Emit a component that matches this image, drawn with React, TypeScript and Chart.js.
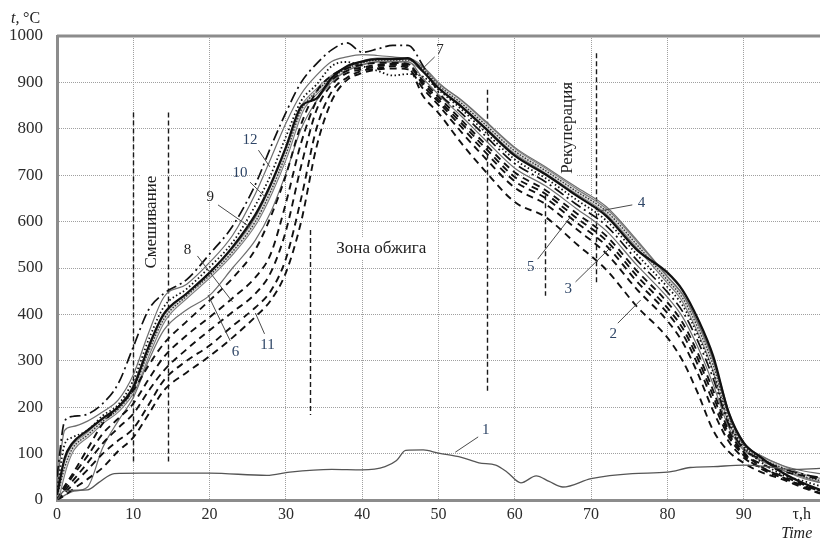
import React, { useEffect, useRef } from "react";
import { Chart, registerables } from "chart.js";

Chart.register(...registerables);

// time, h
const timeH = [0, 1, 2, 4, 6, 8, 10, 12, 14, 17, 20, 23, 26, 28, 30, 32, 34, 36, 38, 40, 42, 44, 46, 48, 50, 53, 56, 60, 64, 68, 72, 76, 80, 82, 84, 86, 88, 90, 92, 95, 98, 100];

// temperature curves, °C (values at timeH)
const curve2 = [0, 15, 32, 65, 100, 128, 154, 205, 258, 300, 333, 375, 415, 450, 520, 650, 800, 880, 910, 925, 930, 935, 932, 870, 834, 769, 711, 642, 610, 553, 496, 417, 350, 300, 230, 150, 105, 80, 62, 45, 25, 14];
const curve3 = [0, 30, 55, 110, 165, 200, 236, 290, 337, 385, 430, 478, 540, 610, 700, 810, 880, 915, 930, 938, 942, 942, 940, 893, 858, 804, 752, 687, 651, 599, 548, 471, 403, 358, 291, 211, 137, 96, 70, 48, 30, 20];
const curve4 = [5, 70, 110, 140, 170, 195, 238, 320, 390, 440, 484, 535, 600, 665, 745, 840, 880, 910, 930, 942, 948, 948, 948, 928, 894, 855, 811, 752, 710, 666, 622, 550, 474, 435, 371, 291, 180, 118, 92, 70, 50, 42];
const curve5 = [0, 20, 40, 80, 122, 155, 186, 235, 279, 325, 366, 405, 445, 490, 580, 720, 840, 895, 920, 928, 935, 938, 935, 898, 863, 812, 761, 696, 660, 609, 559, 483, 414, 370, 304, 224, 144, 100, 80, 62, 52, 45];
const curve6 = [0, 10, 18, 28, 113, 170, 221, 300, 366, 410, 441, 500, 560, 620, 704, 800, 860, 900, 925, 938, 945, 945, 945, 908, 874, 827, 778, 715, 677, 629, 580, 506, 437, 394, 329, 249, 158, 107, 88, 65, 48, 38];
const curve7 = [50, 170, 180, 185, 208, 250, 330, 410, 445, 475, 530, 590, 680, 760, 835, 900, 940, 970, 985, 965, 972, 980, 980, 935, 879, 834, 787, 725, 686, 638, 591, 517, 448, 406, 342, 262, 164, 110, 90, 68, 55, 48];
const curve8 = [0, 25, 50, 95, 143, 175, 208, 260, 308, 355, 394, 435, 480, 530, 640, 770, 860, 905, 925, 932, 938, 940, 938, 903, 869, 819, 769, 706, 668, 619, 569, 494, 426, 382, 316, 236, 151, 103, 75, 50, 28, 15];
const curve9 = [10, 90, 122, 150, 176, 200, 243, 330, 401, 445, 490, 545, 615, 680, 760, 848, 865, 910, 935, 945, 950, 950, 952, 923, 888, 848, 803, 742, 702, 657, 612, 539, 490, 452, 390, 310, 190, 123, 95, 60, 35, 22];
const curve10 = [20, 120, 135, 150, 182, 205, 258, 345, 416, 455, 502, 555, 635, 700, 783, 860, 895, 935, 944, 935, 925, 915, 918, 912, 884, 842, 795, 734, 694, 648, 602, 529, 459, 419, 355, 275, 171, 114, 85, 55, 40, 30];
const curve11 = [0, 10, 22, 45, 70, 105, 135, 185, 236, 275, 310, 350, 395, 430, 490, 600, 760, 860, 905, 920, 928, 930, 928, 886, 851, 793, 739, 673, 638, 585, 531, 454, 386, 340, 272, 192, 127, 91, 72, 52, 32, 18];
const curve12 = [30, 150, 158, 170, 190, 215, 270, 360, 437, 465, 512, 570, 660, 735, 812, 875, 915, 945, 955, 960, 958, 955, 950, 932, 898, 862, 819, 760, 718, 675, 632, 560, 482, 443, 380, 300, 185, 120, 98, 75, 62, 57];

// curve 1 has its own time points
const curve1Time = [0, 1, 4, 5.5, 7.5, 11, 20, 27.5, 30.5, 36, 40, 43, 44.5, 45.7, 48, 50, 53, 55.3, 57.5, 59, 60.8, 62.8, 64.5, 66.3, 70, 75.4, 80, 83, 86, 90, 93, 96.3, 100];
const curve1Temp = [0, 20, 22, 38, 57, 58, 58, 53, 60, 66, 65, 72, 85, 107, 108, 101, 92, 80, 75, 60, 37, 52, 40, 28, 46, 57, 60, 70, 72, 75, 72, 66, 68];

// axis ticks
const xTicks = [0, 10, 20, 30, 40, 50, 60, 70, 80, 90];
const yTicks = [0, 100, 200, 300, 400, 500, 600, 700, 800, 900, 1000];

// zone boundaries (time, from °C, to °C)
const zoneLineX = [10, 14.6, 33.1, 56.3, 63.9, 70.6];
const zoneLineFrom = [80, 82, 183, 233, 440, 463];
const zoneLineTo = [835, 835, 582, 884, 657, 963];

// zone names
const zoneText = ["Смешивание", "Зона обжига", "Рекуперация"];
const zoneTextX = [12.3, 42.5, 66.8];
const zoneTextY = [599, 541, 802];
const zoneTextVertical = [true, false, true];

// curve numbers with leader lines
const labelText = ["1", "2", "3", "4", "5", "6", "7", "8", "9", "10", "11", "12"];
const labelX = [56.2, 72.9, 67.0, 76.6, 62.1, 23.4, 50.2, 17.1, 20.1, 24.0, 27.6, 25.3];
const labelY = [151, 358, 455, 640, 502, 319, 970, 539, 653, 705, 334, 776];
const leaderX1 = [55.2, 73.5, 67.96, 75.4, 63.0, 22.7, 49.5, 18.4, 21.1, 25.3, 27.2, 26.4];
const leaderY1 = [136, 381, 470, 636, 519, 343, 955, 526, 636, 685, 358, 754];
const leaderX2 = [52.2, 76.5, 72.6, 70.8, 67.3, 19.8, 48.0, 23.0, 25.3, 27.3, 26.0, 27.9];
const leaderY2 = [103, 431, 545, 622, 610, 442, 931, 427, 588, 653, 403, 718];

const SERIF = "'Liberation Serif', 'DejaVu Serif', serif";

function pts(xs: number[], ys: number[]) {
  return xs.map((x, i) => ({ x, y: ys[i] }));
}

const annotatePlugin = {
  id: "annotate",
  beforeDatasetsDraw(chart: any) {
    const { ctx, scales } = chart;
    const x = scales.x;
    const y = scales.y;
    ctx.save();
    // white backgrounds behind zone names
    ctx.font = `17px ${SERIF}`;
    ctx.fillStyle = "#ffffff";
    zoneText.forEach((t, i) => {
      const w = ctx.measureText(t).width;
      const cx = x.getPixelForValue(zoneTextX[i]);
      const cy = y.getPixelForValue(zoneTextY[i]);
      if (zoneTextVertical[i]) {
        ctx.fillRect(cx - 10, cy - w / 2 - 5, 20, w + 10);
      } else {
        ctx.fillRect(cx - w / 2 - 5, cy - 11, w + 10, 22);
      }
    });
    // zone boundary lines
    ctx.strokeStyle = "#1a1a1a";
    ctx.lineWidth = 1.4;
    ctx.setLineDash([5, 3]);
    zoneLineX.forEach((xv, i) => {
      const px = Math.round(x.getPixelForValue(xv)) + 0.5;
      ctx.beginPath();
      ctx.moveTo(px, y.getPixelForValue(zoneLineTo[i]));
      ctx.lineTo(px, y.getPixelForValue(zoneLineFrom[i]));
      ctx.stroke();
    });
    ctx.restore();
  },
  afterDatasetsDraw(chart: any) {
    const { ctx, scales, chartArea } = chart;
    const x = scales.x;
    const y = scales.y;
    ctx.save();
    // top frame line
    ctx.strokeStyle = "#8c8c8c";
    ctx.lineWidth = 3;
    ctx.beginPath();
    ctx.moveTo(chartArea.left, chartArea.top);
    ctx.lineTo(chartArea.right, chartArea.top);
    ctx.stroke();

    // zone names
    ctx.fillStyle = "#1e1e1e";
    ctx.font = `17px ${SERIF}`;
    ctx.textAlign = "center";
    ctx.textBaseline = "middle";
    zoneText.forEach((t, i) => {
      const cx = x.getPixelForValue(zoneTextX[i]);
      const cy = y.getPixelForValue(zoneTextY[i]);
      if (zoneTextVertical[i]) {
        ctx.save();
        ctx.translate(cx, cy);
        ctx.rotate(-Math.PI / 2);
        ctx.fillText(t, 0, 1);
        ctx.restore();
      } else {
        ctx.fillText(t, cx, cy);
      }
    });

    // leader lines
    ctx.strokeStyle = "#4a4a4a";
    ctx.lineWidth = 1;
    ctx.setLineDash([]);
    labelText.forEach((_, i) => {
      ctx.beginPath();
      ctx.moveTo(x.getPixelForValue(leaderX1[i]), y.getPixelForValue(leaderY1[i]));
      ctx.lineTo(x.getPixelForValue(leaderX2[i]), y.getPixelForValue(leaderY2[i]));
      ctx.stroke();
    });
    // curve numbers
    ctx.font = `15px ${SERIF}`;
    labelText.forEach((t, i) => {
      ctx.fillStyle = t === "7" || t === "8" || t === "9" ? "#222222" : "#2e4566";
      ctx.fillText(t, x.getPixelForValue(labelX[i]), y.getPixelForValue(labelY[i]));
    });

    // axis titles
    ctx.fillStyle = "#222222";
    ctx.textAlign = "left";
    ctx.textBaseline = "alphabetic";
    const ty = chartArea.top - 13;
    ctx.font = `italic 16px ${SERIF}`;
    ctx.fillText("t,", 11, ty);
    ctx.font = `16px ${SERIF}`;
    ctx.fillText("°C", 23, ty);

    ctx.textAlign = "center";
    ctx.font = `16px ${SERIF}`;
    const hx = x.getPixelForValue(97.6);
    ctx.fillText("τ,h", hx, x.top + 19);
    ctx.font = `italic 16px ${SERIF}`;
    ctx.fillText("Time", hx - 5, x.top + 38);
    ctx.restore();
  },
};

export default function App() {
  const canvasRef = useRef<HTMLCanvasElement | null>(null);

  useEffect(() => {
    if (!canvasRef.current) return;
    const dashed = { borderColor: "#111111", borderWidth: 1.9, borderDash: [7, 5] };
    const thinGray = { borderColor: "#6e6e6e", borderWidth: 1.2 };
    const datasets: any[] = [
      { label: "1", data: pts(curve1Time, curve1Temp), borderColor: "#555555", borderWidth: 1.3 },
      { label: "9", data: pts(timeH, curve9), borderColor: "#111111", borderWidth: 2.3 },
      { label: "7", data: pts(timeH, curve7), borderColor: "#111111", borderWidth: 1.7, borderDash: [11, 4, 2, 4] },
      { label: "10", data: pts(timeH, curve10), borderColor: "#111111", borderWidth: 1.8, borderDash: [1.5, 2.5] },
      { label: "2", data: pts(timeH, curve2), ...dashed },
      { label: "3", data: pts(timeH, curve3), ...dashed },
      { label: "5", data: pts(timeH, curve5), ...dashed },
      { label: "8", data: pts(timeH, curve8), ...dashed },
      { label: "11", data: pts(timeH, curve11), ...dashed },
      { label: "12", data: pts(timeH, curve12), ...thinGray },
      { label: "6", data: pts(timeH, curve6), ...thinGray },
      { label: "4 dots", data: pts(timeH, curve4), borderColor: "#333333", borderWidth: 1.4, borderDash: [1.5, 1.5] },
      { label: "4 core", data: pts(timeH, curve4), borderColor: "#dcdcdc", borderWidth: 3.2 },
      { label: "4", data: pts(timeH, curve4), borderColor: "#777777", borderWidth: 5.2 },
    ];

    const tickFont = { family: SERIF, size: 16 };
    const chart = new Chart(canvasRef.current, {
      type: "line",
      data: { datasets },
      options: {
        animation: false,
        responsive: true,
        maintainAspectRatio: false,
        layout: { padding: { top: 36, right: 0, left: 0, bottom: 0 } },
        plugins: { legend: { display: false }, tooltip: { enabled: false } },
        elements: {
          point: { radius: 0 },
          line: { cubicInterpolationMode: "monotone", fill: false },
        },
        scales: {
          x: {
            type: "linear",
            min: 0,
            max: 100,
            afterBuildTicks: (s: any) => {
              s.ticks = xTicks.map((v) => ({ value: v }));
            },
            afterFit: (s: any) => {
              s.height = 40;
            },
            ticks: {
              font: tickFont,
              color: "#2b2b2b",
              padding: 5,
              maxRotation: 0,
              autoSkip: false,
              callback: (v: any) => String(v),
            },
            grid: { color: "#a0a0a0", lineWidth: 1, drawTicks: false },
            border: { color: "#8c8c8c", width: 3, dash: [1, 1] },
          },
          y: {
            type: "linear",
            min: 0,
            max: 1000,
            afterBuildTicks: (s: any) => {
              s.ticks = yTicks.map((v) => ({ value: v }));
            },
            afterFit: (s: any) => {
              s.width = 57;
            },
            ticks: {
              font: { family: SERIF, size: 17 },
              color: "#2b2b2b",
              padding: 14,
              autoSkip: false,
              callback: (v: any) => String(v),
            },
            grid: { color: "#a0a0a0", lineWidth: 1, drawTicks: false },
            border: { color: "#8c8c8c", width: 3, dash: [1, 1] },
          },
        },
      } as any,
      plugins: [annotatePlugin as any],
    });
    return () => chart.destroy();
  }, []);

  return (
    <div style={{ position: "fixed", left: 0, top: 0, width: 820, height: 540, background: "#ffffff" }}>
      <canvas ref={canvasRef} />
    </div>
  );
}
